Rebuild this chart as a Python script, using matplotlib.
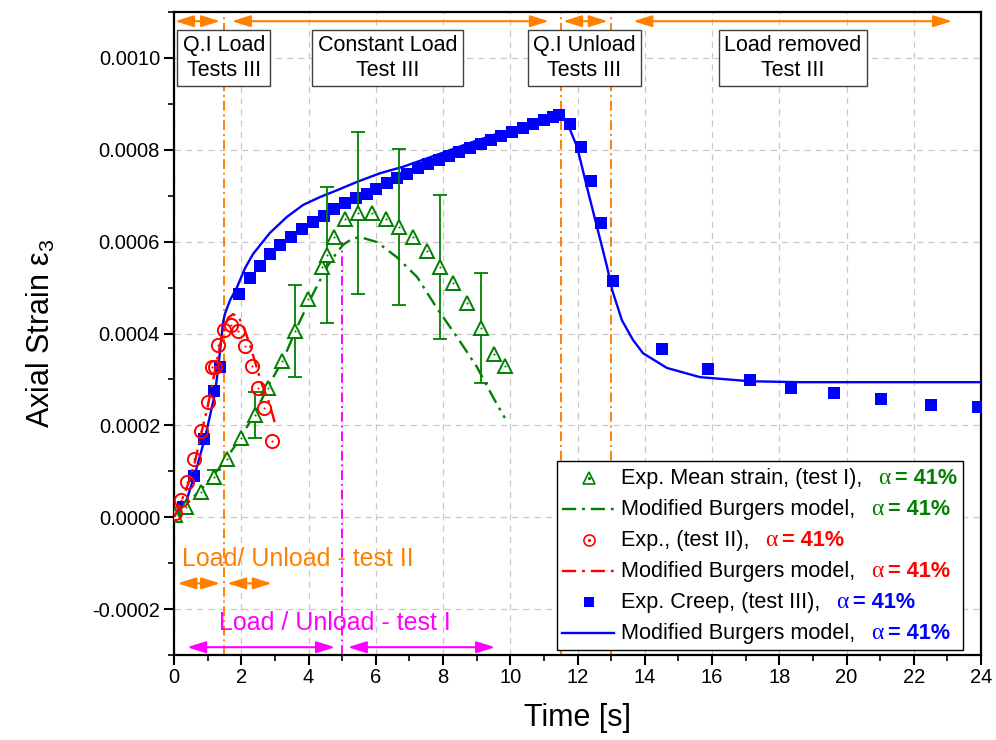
import numpy as np
import matplotlib
matplotlib.use('Agg')
import matplotlib.pyplot as plt
from matplotlib.lines import Line2D
from matplotlib.ticker import MultipleLocator, FuncFormatter
from matplotlib.offsetbox import AnchoredOffsetbox, VPacker, HPacker, TextArea, DrawingArea

plt.rcParams['font.family'] = ['Liberation Sans', 'DejaVu Sans']
plt.rcParams['axes.unicode_minus'] = False
plt.rcParams['mathtext.fontset'] = 'custom'
plt.rcParams['mathtext.rm'] = 'Liberation Sans'
plt.rcParams['mathtext.it'] = 'Liberation Sans:italic'

# ---------------- data ----------------
# Test III: experimental creep (blue squares)
t3 = [0.03, 0.27, 0.59, 0.89, 1.19, 1.37, 1.93, 2.26, 2.56, 2.85, 3.15, 3.48, 3.81, 4.13,
      4.46, 4.76, 5.09, 5.41, 5.74, 6.01, 6.33, 6.63, 6.93, 7.26, 7.55, 7.88, 8.18, 8.48,
      8.80, 9.13, 9.43, 9.72, 10.05, 10.38, 10.68, 11.00, 11.27, 11.45, 11.78, 12.10,
      12.40, 12.70, 13.06, 14.51, 15.88, 17.13, 18.35, 19.63, 21.03, 22.51, 23.91]
e3 = [0.0, 0.000022, 0.000089, 0.00017, 0.000275, 0.000327, 0.000486, 0.000521, 0.000547,
      0.000573, 0.000593, 0.00061, 0.000627, 0.000643, 0.000656, 0.000671, 0.000684,
      0.000695, 0.000704, 0.000715, 0.000728, 0.000739, 0.000748, 0.000761, 0.00077,
      0.000778, 0.000787, 0.000795, 0.000804, 0.000813, 0.000821, 0.00083, 0.000839,
      0.000847, 0.000856, 0.000865, 0.000871, 0.000876, 0.000857, 0.000805, 0.000731,
      0.00064, 0.000514, 0.000366, 0.000322, 0.000298, 0.000281, 0.00027, 0.000257,
      0.000244, 0.00024]
# Test III: modified Burgers model (blue line)
t3_model = [0, 0.33, 0.62, 0.92, 1.22, 1.34, 1.46, 1.52, 1.67, 1.87, 2.11, 2.35, 2.85, 3.36,
            3.84, 4.34, 4.85, 5.44, 6.13, 6.81, 7.82, 8.80, 9.78, 10.80, 11.39, 11.48, 11.72,
            11.99, 12.28, 12.58, 12.88, 13.03, 13.32, 13.65, 13.95, 14.66, 15.64, 17.13,
            18.62, 24.0]
e3_model = [0, 0.000026, 0.000094, 0.000172, 0.00027, 0.000342, 0.000425, 0.000444,
            0.000473, 0.0005, 0.000542, 0.000573, 0.000619, 0.000654, 0.00068, 0.000697,
            0.000712, 0.00073, 0.000749, 0.000763, 0.000789, 0.000815, 0.000839, 0.000863,
            0.000878, 0.000882, 0.000854, 0.000806, 0.000719, 0.000632, 0.000545, 0.000495,
            0.000429, 0.000386, 0.000357, 0.000325, 0.000305, 0.000296, 0.000294, 0.000294]

# Test II: experimental (red circles)
t2 = [0.03, 0.21, 0.39, 0.59, 0.80, 1.01, 1.14, 1.22, 1.31, 1.49, 1.70, 1.90, 2.11, 2.32,
      2.50, 2.68, 2.91]
e2 = [0.0000087, 0.000037, 0.000076, 0.000126, 0.000187, 0.000251, 0.000327, 0.000327,
      0.000375, 0.000407, 0.000418, 0.000405, 0.000373, 0.000329, 0.000281, 0.000237,
      0.000166]
# Test II: model (red dash-dot)
t2_model = [0, 0.21, 0.42, 0.62, 0.80, 1.01, 1.19, 1.34, 1.49, 1.61, 1.75, 1.90, 2.05, 2.26,
            2.44, 2.62, 2.80, 2.91, 3.00]
e2_model = [0, 0.000033, 0.000072, 0.00012, 0.000179, 0.000244, 0.000309, 0.000364,
            0.000412, 0.000434, 0.000442, 0.000438, 0.000418, 0.000375, 0.000331, 0.000288,
            0.000255, 0.000229, 0.000205]

# Test I: experimental mean strain (green triangles) with error bars
t1 = [0.03, 0.36, 0.80, 1.19, 1.58, 1.99, 2.41, 2.80, 3.21, 3.60, 3.99, 4.40, 4.55, 4.76,
      5.09, 5.47, 5.89, 6.30, 6.69, 7.11, 7.52, 7.91, 8.30, 8.71, 9.13, 9.52, 9.84]
e1 = [0.0000044, 0.000022, 0.000054, 0.000087, 0.000126, 0.000172, 0.000222, 0.000281,
      0.00034, 0.000405, 0.000475, 0.000545, 0.000571, 0.00061, 0.000649, 0.000662,
      0.000662, 0.000649, 0.000632, 0.00061, 0.00058, 0.000545, 0.00051, 0.000466,
      0.000412, 0.000355, 0.000329]
e1_err = [0, 0, 0, 0.000015, 0, 0, 0.00005, 0, 0, 0.0001, 0, 0, 0.000148, 0, 0, 0.000176,
          0, 0, 0.00017, 0, 0, 0.000157, 0, 0, 0.00012, 0, 0]
# Test I: model (green dash-dot)
t1_model = [0.0, 0.86, 1.37, 1.87, 2.35, 2.85, 3.24, 3.66, 4.04, 4.55, 4.85, 5.03, 5.29,
            5.53, 6.04, 6.63, 7.23, 7.82, 8.42, 9.01, 9.49, 9.84]
e1_model = [0.0, 0.000065, 0.000109, 0.000161, 0.000218, 0.000292, 0.000342, 0.000414,
            0.000473, 0.000545, 0.000577, 0.000593, 0.000606, 0.00061, 0.000599, 0.000566,
            0.000523, 0.000455, 0.000392, 0.000327, 0.000261, 0.000216]

# phase boundaries and annotations
phase_lines_III = [1.5, 11.5, 13.0]
test1_split = 5.0
phase_labels = ["Q.I Load\nTests III", "Constant Load\nTest III",
                "Q.I Unload\nTests III", "Load removed\nTest III"]
phase_label_x = [1.48, 6.35, 12.21, 18.41]
phase_arrows_III = [(0.03, 1.37), (1.72, 11.15), (11.57, 12.9), (13.66, 23.14)]
arrows_II = [(0.1, 1.37), (1.58, 2.91)]
arrows_I = [(0.39, 4.79), (5.17, 9.55)]

legend_labels = ["Exp. Mean strain, (test I),", "Modified Burgers model,",
                 "Exp., (test II),", "Modified Burgers model,",
                 "Exp. Creep, (test III),", "Modified Burgers model,"]
alpha_text = "= 41%"

# ---------------- style ----------------
orange = '#FF8000'
green = '#008000'
red = '#FF0000'
blue = '#0000FF'
magenta = '#FF00FF'
dd = (0, (6, 2.5, 1.2, 2.5))
vdd = (0, (5, 2, 1, 2))

fig = plt.figure(figsize=(9.96, 7.4), dpi=100)
ax = fig.add_axes([0.1747, 0.11486, 0.81024, 0.86892])
ax.set_xlim(0, 24)
ax.set_ylim(-0.0003, 0.0011)

ax.set_axisbelow(True)
ax.grid(True, which='major', color='#c8c8c8', linestyle=(0, (5, 4)), lw=0.9)

ax.xaxis.set_major_locator(MultipleLocator(2))
ax.xaxis.set_minor_locator(MultipleLocator(1))
ax.yaxis.set_major_locator(MultipleLocator(0.0002))
ax.yaxis.set_minor_locator(MultipleLocator(0.0001))
ax.yaxis.set_major_formatter(FuncFormatter(lambda v, p: f'{round(v, 6) + 0.0:.4f}'))
ax.tick_params(which='major', direction='out', length=7, width=1.5, labelsize=14.5,
               top=False, right=False)
ax.tick_params(axis='y', which='major', pad=3)
ax.tick_params(axis='x', which='major', pad=2)
ax.tick_params(which='minor', direction='out', length=4, width=1.2, top=False, right=False)
for s in ax.spines.values():
    s.set_linewidth(1.6)

# vertical phase lines
for xv in phase_lines_III:
    ax.axvline(xv, color=orange, lw=1.4, ls=vdd, zorder=1.5)
ax.vlines(test1_split, -0.0003, 0.0006, color=magenta, lw=1.4, linestyles=[vdd], zorder=1.5)

# data
ax.plot(t3, e3, 's', color=blue, ms=8.9, mew=0, zorder=3)
ax.plot(t3_model, e3_model, '-', color=blue, lw=1.7, zorder=4)

idx = [i for i, v in enumerate(e1_err) if v > 0]
ax.errorbar([t1[i] for i in idx], [e1[i] for i in idx], yerr=[e1_err[i] for i in idx],
            fmt='none', ecolor=green, elinewidth=1.3, capsize=5, capthick=1.3, zorder=4)
ax.plot(t1_model, e1_model, color=green, ls=dd, lw=1.7, zorder=4)
ax.plot(t1, e1, '^', mfc='white', mec=green, mew=1.4, ms=10, zorder=5)
ax.plot(t1, e1, 'o', color=green, ms=1.5, mew=0, zorder=6)

ax.plot(t2_model, e2_model, color=red, ls=dd, lw=1.7, zorder=5)
ax.plot(t2, e2, 'o', mfc='none', mec=red, mew=1.4, ms=9.5, zorder=6)
ax.plot(t2, e2, 'o', color=red, ms=1.5, mew=0, zorder=6)

# top phase boxes and arrows
for lab, xl in zip(phase_labels, phase_label_x):
    ax.text(xl, 0.001, lab, ha='center', va='center', fontsize=15.5, linespacing=1.2,
            multialignment='center', zorder=8,
            bbox=dict(boxstyle='square,pad=0.25', fc='white', ec='#404040', lw=1.0))

arrow_style = '<|-|>,head_length=0.8,head_width=0.25'
for (a, b) in phase_arrows_III:
    ax.annotate('', xy=(b, 0.00108), xytext=(a, 0.00108),
                arrowprops=dict(arrowstyle=arrow_style, color=orange, lw=1.5,
                                mutation_scale=14, shrinkA=0, shrinkB=0), zorder=7)
for (a, b) in arrows_II:
    ax.annotate('', xy=(b, -0.000144), xytext=(a, -0.000144),
                arrowprops=dict(arrowstyle=arrow_style, color=orange, lw=1.5,
                                mutation_scale=14, shrinkA=0, shrinkB=0), zorder=7)
for (a, b) in arrows_I:
    ax.annotate('', xy=(b, -0.000283), xytext=(a, -0.000283),
                arrowprops=dict(arrowstyle=arrow_style, color=magenta, lw=1.5,
                                mutation_scale=14, shrinkA=0, shrinkB=0), zorder=7)

ax.text(0.24, -0.0000915, "Load/ Unload - test II", color=orange, fontsize=18,
        ha='left', va='center', zorder=7)
ax.text(1.34, -0.000231, "Load / Unload - test I", color=magenta, fontsize=18,
        ha='left', va='center', zorder=7)

ax.set_xlabel("Time [s]", fontsize=22)
ax.set_ylabel("Axial Strain ε$_3$", fontsize=22)
ax.xaxis.set_label_coords(0.5, -0.074)
ax.yaxis.set_label_coords(-0.145, 0.5)

# ---------------- legend (multi-coloured labels) ----------------
hw, hh = 37, 14
styles = [('^', green), ('dd', green), ('o', red), ('dd', red), ('s', blue), ('-', blue)]
rows = []
for (kind, col), lab in zip(styles, legend_labels):
    da = DrawingArea(hw, hh, 0, 0)
    if kind == 'dd':
        da.add_artist(Line2D([-1, hw], [hh / 2, hh / 2], color=col, lw=1.7, ls=dd))
    elif kind == '-':
        da.add_artist(Line2D([-1, hw], [hh / 2, hh / 2], color=col, lw=1.7))
    elif kind == '^':
        da.add_artist(Line2D([hw / 2], [hh / 2], marker='^', mfc='white', mec=col,
                             mew=1.2, ms=8, ls='none'))
        da.add_artist(Line2D([hw / 2], [hh / 2], marker='o', color=col, ms=1.3, ls='none'))
    elif kind == 'o':
        da.add_artist(Line2D([hw / 2], [hh / 2], marker='o', mfc='none', mec=col,
                             mew=1.2, ms=8, ls='none'))
        da.add_artist(Line2D([hw / 2], [hh / 2], marker='o', color=col, ms=1.3, ls='none'))
    else:
        da.add_artist(Line2D([hw / 2], [hh / 2], marker='s', color=col, mew=0,
                             ms=7.5, ls='none'))
    t_black = TextArea(lab, textprops=dict(size=15.6, color='black'))
    t_alpha = TextArea("α", textprops=dict(size=17, color=col,
                                            family=['Liberation Serif', 'DejaVu Serif']))
    t_val = TextArea(alpha_text, textprops=dict(size=15.6, color=col, weight='bold'))
    grp = HPacker(children=[t_alpha, t_val], sep=3, align='baseline')
    txt = HPacker(children=[t_black, grp], sep=11, align='baseline')
    rows.append(HPacker(children=[da, txt], sep=5, align='center'))

vp = VPacker(children=rows, sep=7.2, align='left')
ab = AnchoredOffsetbox(loc='lower right', child=vp, pad=0.3, borderpad=0.0, frameon=True,
                       bbox_to_anchor=(0.9777, 0.0078), bbox_transform=ax.transAxes,
                       prop=dict(size=15))
ab.patch.set_edgecolor('black')
ab.patch.set_linewidth(1.0)
ab.patch.set_facecolor('white')
ab.set_zorder(10)
ax.add_artist(ab)

fig.savefig('out.png', dpi=100)
